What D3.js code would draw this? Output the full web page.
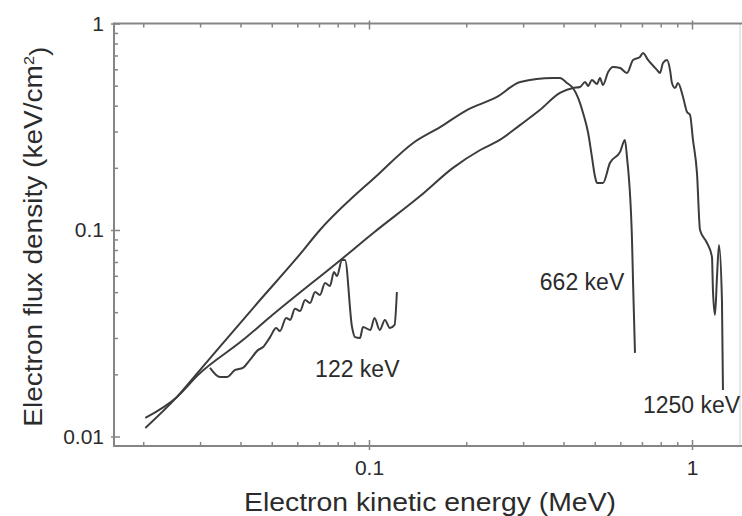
<!DOCTYPE html>
<html>
<head>
<meta charset="utf-8">
<script src="https://cdn.jsdelivr.net/npm/d3@7"></script>
<style>
  html, body { margin: 0; padding: 0; background: #fff; }
  svg { display: block; font-family: "Liberation Sans", Arial, Helvetica, sans-serif; }
</style>
</head>
<body>
<svg id="chart" width="742" height="516"></svg>
<script>
// ---- Data ----
// 662 keV spectrum: energy (MeV) and electron flux density (keV/cm^2)
const energy662 = [0.0203,0.0254,0.0296,0.0460,0.0598,0.0705,0.108,0.137,0.166,0.201,0.249,0.294,0.371,0.390,0.410,0.428,0.444,0.460,0.477,0.490,0.501,0.508,0.530,0.557,0.599,0.620,0.629,0.652,0.657,0.666];
const flux662   = [0.0110,0.0155,0.0205,0.0458,0.0732,0.100,0.189,0.264,0.315,0.381,0.441,0.521,0.545,0.545,0.515,0.487,0.436,0.369,0.295,0.226,0.181,0.169,0.169,0.211,0.239,0.273,0.226,0.0895,0.0554,0.0254];

// 1250 keV spectrum
const energy1250 = [0.0203,0.0254,0.0296,0.0407,0.0494,0.0831,0.104,0.144,0.182,0.221,0.254,0.294,0.338,0.390,0.428,0.450,0.467,0.477,0.490,0.508,0.519,0.530,0.550,0.569,0.599,0.629,0.657,0.690,0.705,0.731,0.779,0.796,0.813,0.837,0.855,0.867,0.886,0.905,0.938,0.965,0.986,1.007,1.036,1.059,1.113,1.153,1.161,1.178,1.195,1.212,1.238,1.247];
const flux1250   = [0.0123,0.0155,0.0199,0.0293,0.0379,0.0732,0.0978,0.146,0.200,0.244,0.273,0.323,0.381,0.461,0.487,0.493,0.521,0.498,0.533,0.509,0.545,0.504,0.582,0.616,0.609,0.576,0.666,0.688,0.720,0.666,0.596,0.576,0.644,0.666,0.596,0.515,0.487,0.515,0.441,0.373,0.361,0.273,0.189,0.100,0.0865,0.0740,0.0512,0.0388,0.0592,0.0846,0.0458,0.0168];

// 122 keV spectrum
const energy122 = [0.0322,0.0346,0.0363,0.0385,0.0407,0.0428,0.0453,0.0470,0.0494,0.0516,0.0530,0.0554,0.0570,0.0590,0.0612,0.0634,0.0657,0.0681,0.0705,0.0731,0.0757,0.0779,0.0796,0.0825,0.0843,0.0886,0.0905,0.0938,0.0958,0.101,0.104,0.108,0.112,0.116,0.120,0.122];
const flux122   = [0.0215,0.0194,0.0194,0.0210,0.0215,0.0235,0.0262,0.0271,0.0303,0.0335,0.0324,0.0375,0.0367,0.0415,0.0405,0.0458,0.0443,0.0501,0.0484,0.0554,0.0536,0.0626,0.0599,0.0716,0.0716,0.0339,0.0303,0.0300,0.0339,0.0328,0.0375,0.0328,0.0367,0.0335,0.0347,0.0501];

// Tick values and labels
const xMajorTicks = [0.1, 1];
const xMajorLabels = ["0.1", "1"];
const xMinorTicks = [0.02,0.03,0.04,0.05,0.06,0.07,0.08,0.09,0.2,0.3,0.4,0.5,0.6,0.7,0.8,0.9];
const yMajorTicks = [0.01, 0.1, 1];
const yMajorLabels = ["0.01", "0.1", "1"];
const yMinorTicks = [0.02,0.03,0.04,0.05,0.06,0.07,0.08,0.09,0.2,0.3,0.4,0.5,0.6,0.7,0.8,0.9];

// Peak annotations (label start position in data units)
const peakLabels = ["122 keV", "662 keV", "1250 keV"];
const peakLabelE = [0.0681, 0.338, 0.705];
const peakLabelF = [0.0194, 0.0512, 0.0130];

// ---- Layout ----
const svg = d3.select("#chart");
const M = { left: 114, right: 740, top: 23.5, bottom: 446 };

const x = d3.scaleLog().domain([0.01624, 1.408]).range([M.left, M.right]);
const y = d3.scaleLog().domain([0.008994, 1]).range([M.bottom, M.top]);

const axisColor = "#858585";
const lineColor = "#3c3c3c";
const textColor = "#2b2b2b";

// right frame edge (faint)
svg.append("line").attr("x1", M.right).attr("x2", M.right).attr("y1", M.top).attr("y2", M.bottom)
  .attr("stroke", "#d8d8d8").attr("stroke-width", 1.2);

function styleAxis(g) {
  g.select(".domain").remove();
  g.selectAll(".tick line").attr("stroke", axisColor).attr("stroke-width", 1.5);
  g.selectAll(".tick text").attr("fill", textColor).style("font-size", "21px")
    .style("font-family", "'Liberation Sans', Arial, sans-serif");
}

// bottom axis: major ticks with labels (cross the axis), minor ticks inward
const gxMaj = svg.append("g").attr("transform", `translate(0,${M.bottom})`)
  .call(d3.axisBottom(x).tickValues(xMajorTicks).tickFormat((d, i) => xMajorLabels[i]).tickSizeInner(-6).tickSizeOuter(0).tickPadding(14));
styleAxis(gxMaj);
gxMaj.selectAll(".tick").append("line").attr("y1", 0).attr("y2", 4).attr("stroke", axisColor).attr("stroke-width", 1.5);

const gxMin = svg.append("g").attr("transform", `translate(0,${M.bottom})`)
  .call(d3.axisBottom(x).tickValues(xMinorTicks).tickFormat("").tickSizeInner(-4).tickSizeOuter(0));
styleAxis(gxMin);

// top axis ticks (inward)
const gxTop = svg.append("g").attr("transform", `translate(0,${M.top})`)
  .call(d3.axisTop(x).tickValues(xMinorTicks.concat(xMajorTicks)).tickFormat("").tickSizeInner(-4).tickSizeOuter(0));
styleAxis(gxTop);
gxTop.selectAll(".tick line").filter(d => xMajorTicks.includes(d)).attr("y2", 6).attr("y1", -3);

// left axis
const gyMaj = svg.append("g").attr("transform", `translate(${M.left},0)`)
  .call(d3.axisLeft(y).tickValues(yMajorTicks).tickFormat((d, i) => yMajorLabels[i]).tickSizeInner(-6).tickSizeOuter(0).tickPadding(10));
styleAxis(gyMaj);
gyMaj.selectAll(".tick").append("line").attr("x1", 0).attr("x2", -3).attr("stroke", axisColor).attr("stroke-width", 1.5);

const gyMin = svg.append("g").attr("transform", `translate(${M.left},0)`)
  .call(d3.axisLeft(y).tickValues(yMinorTicks).tickFormat("").tickSizeInner(-4).tickSizeOuter(0));
styleAxis(gyMin);

// axis lines
svg.append("line").attr("x1", M.left).attr("x2", 742).attr("y1", M.bottom).attr("y2", M.bottom)
  .attr("stroke", axisColor).attr("stroke-width", 2);
svg.append("line").attr("x1", M.left).attr("x2", 742).attr("y1", M.top).attr("y2", M.top)
  .attr("stroke", axisColor).attr("stroke-width", 2);
svg.append("line").attr("x1", M.left).attr("x2", M.left).attr("y1", M.top - 1).attr("y2", M.bottom + 1)
  .attr("stroke", axisColor).attr("stroke-width", 2);

// curves
const line = d3.line().curve(d3.curveMonotoneX).x(d => x(d[0])).y(d => y(d[1]));
const series = [
  d3.zip(energy662, flux662),
  d3.zip(energy1250, flux1250),
  d3.zip(energy122, flux122)
];
svg.append("g").selectAll("path").data(series).join("path")
  .attr("d", line)
  .attr("fill", "none")
  .attr("stroke", lineColor)
  .attr("stroke-width", 2)
  .attr("stroke-linejoin", "round");

// peak annotations
svg.append("g").selectAll("text").data(peakLabels).join("text")
  .attr("x", (d, i) => x(peakLabelE[i]))
  .attr("y", (d, i) => y(peakLabelF[i]))
  .attr("text-anchor", "start")
  .attr("fill", textColor)
  .style("font-size", "23px")
  .text(d => d);

// axis titles
svg.append("text")
  .attr("x", 430).attr("y", 511)
  .attr("text-anchor", "middle")
  .attr("fill", textColor)
  .attr("textLength", 372).attr("lengthAdjust", "spacingAndGlyphs")
  .style("font-size", "26px")
  .text("Electron kinetic energy (MeV)");

const yt = svg.append("text")
  .attr("transform", `translate(42,${(M.top + M.bottom) / 2 + 2}) rotate(-90)`)
  .attr("text-anchor", "middle")
  .attr("fill", textColor)
  .attr("textLength", 380).attr("lengthAdjust", "spacingAndGlyphs")
  .style("font-size", "26px");
yt.append("tspan").text("Electron flux density (keV/cm");
yt.append("tspan").attr("dy", "-0.55em").style("font-size", "15px").text("2");
yt.append("tspan").attr("dy", "0.55em").text(")");
</script>
</body>
</html>
